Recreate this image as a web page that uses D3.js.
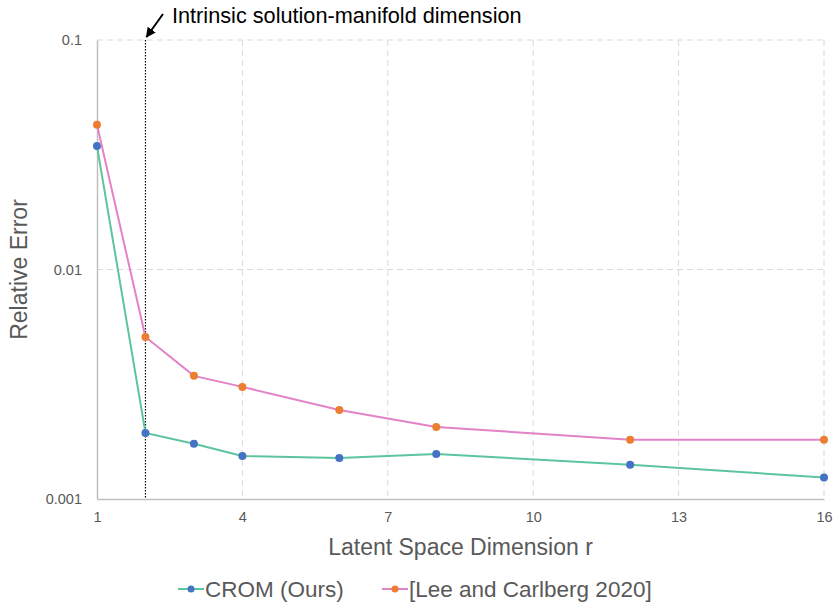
<!DOCTYPE html>
<html>
<head>
<meta charset="utf-8">
<script src="https://cdn.jsdelivr.net/npm/d3@7"></script>
<style>
  body { margin: 0; background: #fff; }
  text { font-family: "Liberation Sans", Arial, sans-serif; }
</style>
</head>
<body>
<svg width="834" height="603"></svg>
<script>
// data
const dims = [1, 2, 3, 4, 6, 8, 12, 16];
const cromErr = [0.0345, 0.00194, 0.00174, 0.00154, 0.00151, 0.00157, 0.00141, 0.00124];
const leeErr = [0.0427, 0.00508, 0.00344, 0.00308, 0.00244, 0.00206, 0.00181, 0.00181];
const xTicks = [1, 4, 7, 10, 13, 16];
const yTicks = [0.001, 0.01, 0.1];
const seriesNames = ["CROM (Ours)", "[Lee and Carlberg 2020]"];
const intrinsicDim = 2;

const svg = d3.select("svg"),
    margin = {top: 40, right: 10, bottom: 104, left: 97},
    width = 824 - margin.left,
    height = 499 - margin.top;

const x = d3.scaleLinear().domain([1, 16]).range([0, width]);
const y = d3.scaleLog().domain([0.001, 0.1]).range([height, 0]);

const series = [
  {name: seriesNames[0], values: cromErr, line: "#5cc5a0", dot: "#4472c4"},
  {name: seriesNames[1], values: leeErr, line: "#e482c8", dot: "#ed7d31"}
];

const g = svg.append("g")
    .attr("transform", "translate(" + margin.left + "," + margin.top + ")");

// gridlines
g.append("g")
  .selectAll("line")
  .data(xTicks.slice(1))
  .enter().append("line")
    .attr("x1", d => x(d)).attr("x2", d => x(d))
    .attr("y1", 0).attr("y2", height)
    .style("stroke", "#d9d9d9")
    .style("stroke-dasharray", "6,4");

g.append("g")
  .selectAll("line")
  .data(yTicks.slice(1))
  .enter().append("line")
    .attr("x1", 0).attr("x2", width)
    .attr("y1", d => y(d)).attr("y2", d => y(d))
    .style("stroke", "#d9d9d9")
    .style("stroke-dasharray", "6,4");

// axes
const xAxis = g.append("g")
    .attr("transform", "translate(0," + height + ")")
    .call(d3.axisBottom(x).tickValues(xTicks).tickSize(0).tickPadding(13).tickFormat(d3.format("d")));
const yAxis = g.append("g")
    .call(d3.axisLeft(y).tickValues(yTicks).tickSize(0).tickPadding(15).tickFormat(d => d.toString()));

[xAxis, yAxis].forEach(a => {
  a.select(".domain").style("stroke", "#bfbfbf").style("stroke-width", 1.5);
  a.selectAll("text")
    .style("font-family", "'Liberation Sans', Arial, sans-serif")
    .style("font-size", "14.5px")
    .style("fill", "#595959");
});

// intrinsic dimension marker
g.append("line")
  .attr("x1", x(intrinsicDim)).attr("x2", x(intrinsicDim))
  .attr("y1", 0).attr("y2", height)
  .style("stroke", "#000")
  .style("stroke-width", 1.2)
  .style("stroke-dasharray", "1.5,1.5");

// lines and markers
const line = d3.line()
  .x((d, i) => x(dims[i]))
  .y(d => y(d));

series.forEach(s => {
  g.append("path")
    .datum(s.values)
    .attr("d", line)
    .style("fill", "none")
    .style("stroke", s.line)
    .style("stroke-width", 2);
  g.selectAll(null)
    .data(s.values)
    .enter().append("circle")
    .attr("cx", (d, i) => x(dims[i]))
    .attr("cy", d => y(d))
    .attr("r", 4)
    .style("fill", s.dot);
});

// annotation
svg.append("defs").append("marker")
  .attr("id", "arrow")
  .attr("viewBox", "0 0 10 10")
  .attr("refX", 9).attr("refY", 5)
  .attr("markerWidth", 5).attr("markerHeight", 5)
  .attr("orient", "auto")
  .append("path")
  .attr("d", "M0,0L10,5L0,10Z")
  .style("fill", "#000");

svg.append("line")
  .attr("x1", 163).attr("y1", 14)
  .attr("x2", margin.left + x(intrinsicDim) + 1).attr("y2", 37)
  .style("stroke", "#000")
  .style("stroke-width", 2)
  .attr("marker-end", "url(#arrow)");

svg.append("text")
  .attr("x", 172).attr("y", 23)
  .text("Intrinsic solution-manifold dimension")
  .style("font-size", "21.7px")
  .style("fill", "#000");

// axis titles
svg.append("text")
  .attr("x", margin.left + width / 2)
  .attr("y", 555)
  .attr("text-anchor", "middle")
  .text("Latent Space Dimension r")
  .style("font-size", "23px")
  .style("fill", "#595959");

svg.append("text")
  .attr("transform", "translate(27," + (margin.top + height / 2) + ") rotate(-90)")
  .attr("text-anchor", "middle")
  .text("Relative Error")
  .style("font-size", "23px")
  .style("fill", "#595959");

// legend
const legendX = [178, 382];
series.forEach((s, i) => {
  const lg = svg.append("g").attr("transform", "translate(" + legendX[i] + ",589)");
  lg.append("line")
    .attr("x1", 0).attr("x2", 26).attr("y1", 0).attr("y2", 0)
    .style("stroke", s.line).style("stroke-width", 2);
  lg.append("circle").attr("cx", 13).attr("cy", 0).attr("r", 3.5).style("fill", s.dot);
  lg.append("text")
    .attr("x", 27).attr("y", 8)
    .text(s.name)
    .style("font-size", "22.5px")
    .style("fill", "#595959");
});
</script>
</body>
</html>
